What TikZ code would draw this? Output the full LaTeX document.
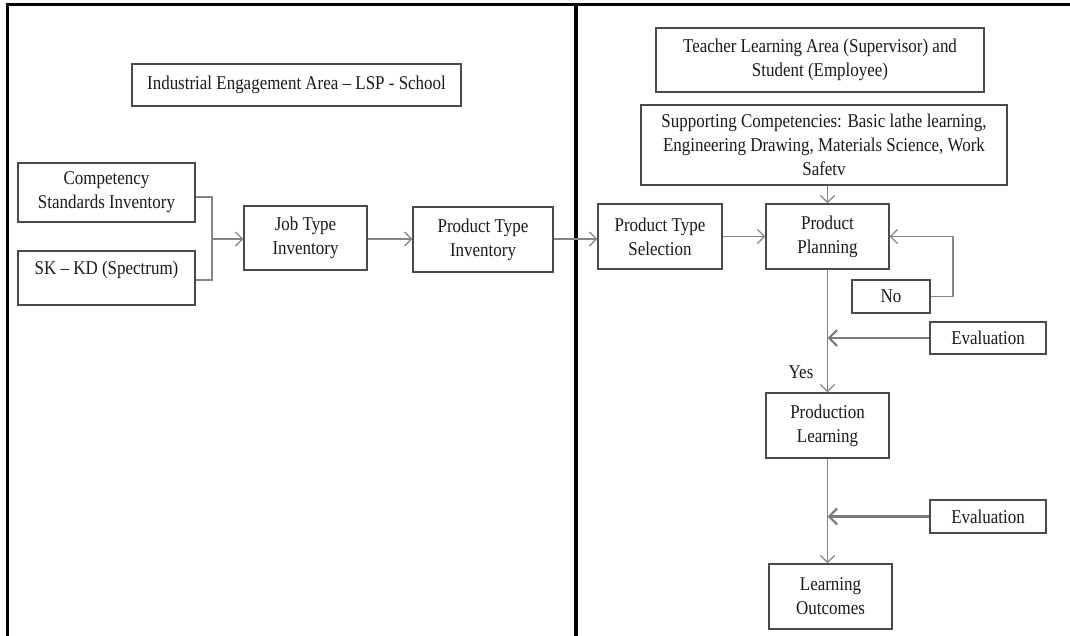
\documentclass[tikz,border=0pt]{standalone}
\usepackage{fontspec}
\setmainfont{Liberation Serif}[FakeStretch=0.87]
\usetikzlibrary{arrows.meta}
\definecolor{boxline}{HTML}{4A4A4A}
\definecolor{linkline}{HTML}{858585}
\definecolor{evalline}{HTML}{7A7A7A}
\definecolor{inkgrey}{HTML}{1A1A1A}
\tikzset{
  stagebox/.style={draw=boxline, line width=1.4pt, align=center, inner sep=2pt,
    text=inkgrey, font=\fontsize{19.5}{24}\selectfont},
  plaintext/.style={inner sep=0pt, text=inkgrey, font=\fontsize{19.5}{24}\selectfont},
  link/.style={draw=linkline, line width=1.2pt,
    -{Straight Barb[length=7pt, width=14pt, line width=1.2pt]}},
  joint/.style={draw=linkline, line width=1.2pt},
  evalarrow/.style={draw=evalline, line width=2.2pt,
    -{Straight Barb[length=8pt, width=16pt, line width=2.2pt]}},
  frame/.style={draw=black, line cap=rect}
}
\begin{document}
\begin{tikzpicture}[x=1pt, y=-1pt]
  \useasboundingbox (0,0) rectangle (1070,635);

  % Panel frame and divider
  \draw[frame, line width=2.6pt] (7,4.5) -- (1070,4.5);
  \draw[frame, line width=2.6pt] (7.5,4.5) -- (7.5,635);
  \draw[frame, line width=3.4pt] (576,4.5) -- (576,635);

  % Left panel
  \node[stagebox, minimum width=329pt, minimum height=42pt] (title) at (296.5,85)
    {Industrial Engagement Area -- LSP - School};
  \node[stagebox, minimum width=177pt, minimum height=59pt] (comp) at (106.5,192.5)
    {Competency\\Standards Inventory};
  \node[stagebox, minimum width=177pt, minimum height=54pt] (sk) at (106.5,278) {};
  \node[plaintext] (sktext) at (106.5,270) {SK -- KD (Spectrum)};
  \node[stagebox, minimum width=123pt, minimum height=64pt] (job) at (305.5,238)
    {Job Type\\Inventory};
  \node[stagebox, minimum width=140pt, minimum height=65pt] (pti) at (483,239.5)
    {Product Type\\Inventory};

  % Right panel
  \node[stagebox, minimum width=328pt, minimum height=64pt] (teacher) at (820,60)
    {Teacher Learning Area (Supervisor) and\\Student (Employee)};
  \node[stagebox, minimum width=366pt, minimum height=80pt] (supp) at (824,145)
    {Supporting Competencies: Basic lathe learning,\\Engineering Drawing, Materials Science, Work\\Safetv};
  \node[stagebox, minimum width=124pt, minimum height=65pt] (pts) at (660,236.5)
    {Product Type\\Selection};
  \node[stagebox, minimum width=123pt, minimum height=65pt] (pp) at (827.5,236.5)
    {Product\\Planning};
  \node[stagebox, minimum width=78pt, minimum height=33pt] (no) at (891,296.5) {No};
  \node[stagebox, minimum width=116pt, minimum height=32pt] (eval1) at (988,338)
    {Evaluation};
  \node[plaintext] (yes) at (801,372) {Yes};
  \node[stagebox, minimum width=123pt, minimum height=65pt] (pl) at (827.5,425.5)
    {Production\\Learning};
  \node[stagebox, minimum width=116pt, minimum height=33pt] (eval2) at (988,516.5)
    {Evaluation};
  \node[stagebox, minimum width=123pt, minimum height=65pt] (lo) at (830.5,596.5)
    {Learning\\Outcomes};

  % Connectors
  \coordinate (merge) at (212,239);
  \coordinate (loop) at (953,0);
  \draw[joint] (comp.east) ++(0,4.5) coordinate (compout) -| (merge);
  \draw[joint] (sk.east) ++(0,2) coordinate (skout) -| (merge);
  \draw[link] (merge) -- (job.west |- merge);
  \draw[link] (job.east |- merge) -- (pti.west |- merge);
  \draw[link] (pti.east |- merge) -- (pts.west |- merge);
  \draw[link] (pts.east) -- (pp.west);
  \draw[link] (pp.north |- supp.south) -- (pp.north);
  \draw[link] (no.east) -| (loop |- pp.east) -- (pp.east);
  \draw[link] (pp.south) -- (pl.north);
  \draw[evalarrow] (eval1.west) -- (pp.south |- eval1.west);
  \draw[link] (pl.south) -- (pl.south |- lo.north);
  \draw[evalarrow] (eval2.west) -- (pl.south |- eval2.west);
\end{tikzpicture}
\end{document}
